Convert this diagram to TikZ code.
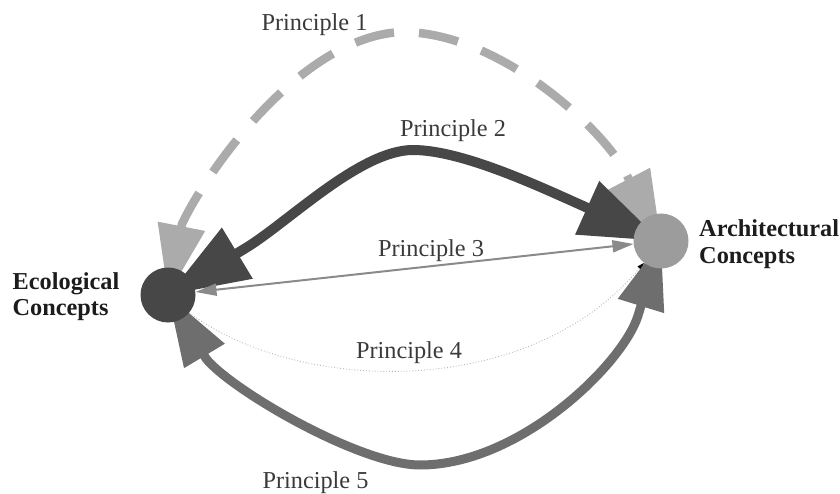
\documentclass[tikz,border=0pt]{standalone}
\usepackage{fontspec}
\setmainfont{Liberation Serif}
\usetikzlibrary{arrows.meta}

\definecolor{ecofill}{HTML}{474747}
\definecolor{archfill}{HTML}{9C9C9C}
\definecolor{pone}{HTML}{ABABAB}
\definecolor{ptwo}{HTML}{474747}
\definecolor{pthree}{HTML}{8A8A8A}
\definecolor{pfour}{HTML}{B8B8B8}
\definecolor{pfive}{HTML}{6E6E6E}
\definecolor{labelgray}{HTML}{3A3A3A}
\definecolor{titlegray}{HTML}{1C1C1C}

\pgfdeclarelayer{background}
\pgfsetlayers{background,main}

\tikzset{
  concept/.style={circle, minimum size=55pt, inner sep=0pt, draw=none},
  title/.style={font=\fontsize{24.3}{26.3}\selectfont\bfseries, text=titlegray,
    align=left, inner sep=0pt},
  plabel/.style={font=\fontsize{24.3}{28}\selectfont, text=labelgray,
    inner sep=0pt, anchor=base},
  % the large heads aim at the centre of each concept circle
  pone line/.style={draw=pone, line width=8.5pt, dash pattern=on 40pt off 25pt,
    arrows={Triangle[length=70pt,width=46pt]-Triangle[length=70pt,width=46pt]}},
  ptwo line/.style={draw=ptwo, line width=10pt,
    arrows={Triangle[length=81pt,width=57pt]-Triangle[length=81pt,width=56pt]}},
  pthree line/.style={draw=pthree, line width=2pt,
    arrows={Triangle[length=21pt,width=12pt]-Triangle[length=21pt,width=12pt]}},
  pfour line/.style={draw=pfour, line width=0.9pt, dotted,
    arrows={-Triangle[length=7pt,width=5pt,color=black]}},
  pfive line/.style={draw=pfive, line width=9pt,
    arrows={Triangle[length=71pt,width=45pt]-Triangle[length=68pt,width=46pt]}},
}

\begin{document}
\begin{tikzpicture}[x=1pt, y=-1pt]
  \useasboundingbox (0,0) rectangle (840,494);

  % concept nodes
  \node[concept, fill=ecofill] (eco) at (168,295) {};
  \node[concept, fill=archfill] (arch) at (661,241) {};

  % two-line titles, placed by the baseline of their last line
  \node[title, anchor=base west] (ecotext) at (12.5,315.5) {Ecological\\Concepts};
  \node[title, anchor=base west] (archtext) at (699,263) {Architectural\\Concepts};

  % principle connectors, kept under the concept circles
  \begin{pgfonlayer}{background}
    \draw[pone line] (eco.center) -- (181.8,224.4)
      .. controls (204.9,174.4) and (300,36) .. (402,32)
      .. controls (500,32) and (603,130) .. (624,170) -- (arch.center);
    \draw[ptwo line] (eco.center) -- (245,248.5)
      .. controls (287.8,222.7) and (360,150) .. (413,150)
      .. controls (460,150) and (533.3,183.6) .. (578.9,204.1) -- (arch.center);
    \draw[pthree line] (eco) -- (arch);
    \draw[pfour line] (eco.-40) .. controls (300,395) and (530,400) .. (arch.232);
    \draw[pfive line] (eco.center) -- (206,358.5)
      .. controls (230.8,389.7) and (360,465) .. (420,465)
      .. controls (520,465) and (623.3,363.4) .. (638,315.6) -- (arch.center);
  \end{pgfonlayer}

  % principle labels
  \node[plabel] (lone)   at (314.5,30.5) {Principle 1};
  \node[plabel] (ltwo)   at (453,137)   {Principle 2};
  \node[plabel] (lthree) at (431,257)   {Principle 3};
  \node[plabel] (lfour)  at (409,358)   {Principle 4};
  \node[plabel] (lfive)  at (315.5,488) {Principle 5};
\end{tikzpicture}
\end{document}
